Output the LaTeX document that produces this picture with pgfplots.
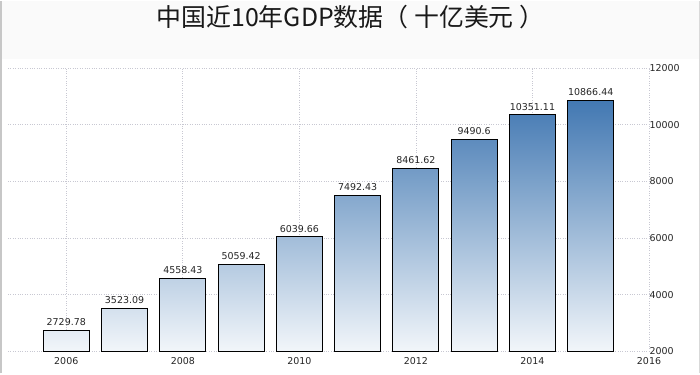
\documentclass[border=0pt]{standalone}
\usepackage{pgfplots}
\pgfplotsset{compat=1.18}
\usepackage{fontspec}
\setmainfont{DejaVu Sans}
\newfontfamily\cjk{Noto Sans CJK SC}
\definecolor{bartop}{RGB}{66,120,178}
\definecolor{barbot}{RGB}{242,246,250}
\definecolor{gridc}{RGB}{200,200,210}
\begin{document}
\begin{tikzpicture}
\fill[white] (-8bp,-22bp) rectangle (692bp,350bp);
\fill[black!2] (-8bp,292bp) rectangle (692bp,350bp);
\draw[black!22,line width=2.5bp] (-6.75bp,-22bp) -- (-6.75bp,350bp);
\draw[black!15,line width=1.5bp] (691.25bp,-22bp) -- (691.25bp,350bp);
\useasboundingbox (-8bp,-22bp) rectangle (692bp,350bp);
\begin{axis}[
  at={(0,0)}, anchor=origin,
  scale only axis,
  width=641bp, height=283bp,
  xmin=2005, xmax=2016,
  ymin=2000, ymax=12000,
  xtick={2006,2008,...,2016},
  ytick={2000,4000,...,12000},
  scaled y ticks=false,
  xticklabel style={/pgf/number format/1000 sep={}},
  yticklabel style={/pgf/number format/1000 sep={}},
  /pgf/number format/assume math mode=true,
  yticklabel pos=right,
  ticklabel style={font=\fontsize{9.5}{11}\selectfont, text=black!85},
  xticklabel style={yshift=-3bp},
  yticklabel style={xshift=-3bp},
  major tick length=0pt,
  axis line style={draw=none},
  grid=major,
  grid style={gridc, dotted, line width=0.7pt},
  title={\cjk\fontsize{25}{28}\selectfont 中国近10年GDP数据（ 十亿美元 ）},
  title style={at={(0.5,1)}, anchor=center, yshift=45bp, xshift=22bp, text=black!90},
  clip=false,
]
\addplot[ybar, bar width=0.79, draw=black, line width=0.9pt,
  top color=bartop, bottom color=barbot,
  point meta=explicit symbolic,
  nodes near coords,
  every node near coord/.append style={font=\fontsize{9.5}{11}\selectfont, text=black!85, yshift=1bp},
] coordinates {
  (2006,2729.78) [2729.78]
  (2007,3523.09) [3523.09]
  (2008,4558.43) [4558.43]
  (2009,5059.42) [5059.42]
  (2010,6039.66) [6039.66]
  (2011,7492.43) [7492.43]
  (2012,8461.62) [8461.62]
  (2013,9490.6) [9490.6]
  (2014,10351.11) [10351.11]
  (2015,10866.44) [10866.44]
};
\end{axis}
\end{tikzpicture}
\end{document}
